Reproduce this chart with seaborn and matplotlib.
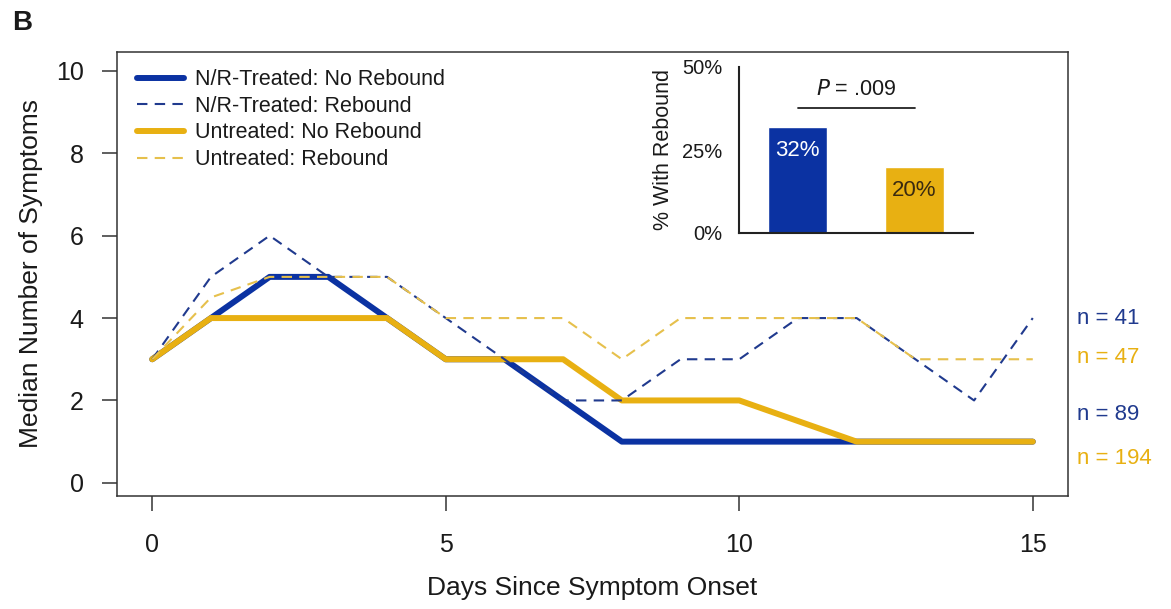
import numpy as np
import pandas as pd
import matplotlib
matplotlib.use("Agg")
import matplotlib.pyplot as plt
import seaborn as sns

# ---------------- data ----------------
days = [0, 1, 2, 3, 4, 5, 6, 7, 8, 9, 10, 11, 12, 13, 14, 15]
treated_no_rebound = [3, 4, 5, 5, 4, 3, 3, 2, 1, 1, 1, 1, 1, 1, 1, 1]
treated_rebound = [3, 5, 6, 5, 5, 4, 3, 2, 2, 3, 3, 4, 4, 3, 2, 4]
untreated_no_rebound = [3, 4, 4, 4, 4, 3, 3, 3, 2, 2, 2, 1.5, 1, 1, 1, 1]
untreated_rebound = [3, 4.5, 5, 5, 5, 4, 4, 4, 3, 4, 4, 4, 4, 3, 3, 3]
series_labels = ["N/R-Treated: No Rebound", "N/R-Treated: Rebound",
                 "Untreated: No Rebound", "Untreated: Rebound"]

n_labels = ["n = 41", "n = 47", "n = 89", "n = 194"]
n_label_y = [4.0, 3.05, 1.65, 0.6]

inset_groups = ["N/R-Treated", "Untreated"]
inset_pct = [32, 20]
inset_bar_labels = ["32%", "20%"]
p_text = ".009"

# ---------------- style ----------------
sns.set_style("ticks")
plt.rcParams['font.family'] = ['Liberation Sans', 'DejaVu Sans']

BLUE = "#0b32a2"
BLUE_D = "#203a8e"
YEL = "#e8b012"
YEL_D = "#e6c04c"
TXT = "#1a1a1a"

fig = plt.figure(figsize=(11.71, 6.09), dpi=100)
ax = fig.add_axes([117/1171, 1-496/609, 951/1171, 444/609])

def line(y, color, lw, dashed, label, z):
    df = pd.DataFrame({"day": days, "val": y})
    kw = dict(x="day", y="val", data=df, ax=ax, color=color, lw=lw,
              label=label, zorder=z, estimator=None)
    if dashed:
        sns.lineplot(**kw, dashes=False, linestyle=(0, (5, 3.5)))
    else:
        sns.lineplot(**kw, solid_capstyle="round", solid_joinstyle="round")

line(treated_no_rebound, BLUE, 4.3, False, series_labels[0], 2)
line(untreated_no_rebound, YEL, 4.3, False, series_labels[2], 3)
line(treated_rebound, BLUE_D, 1.5, True, series_labels[1], 4)
line(untreated_rebound, YEL_D, 1.5, True, series_labels[3], 5)

ax.set_xlim(-0.6, 15.6)
ax.set_ylim(-0.32, 10.46)
ax.set_xticks([0, 5, 10, 15])
ax.set_yticks([0, 2, 4, 6, 8, 10])
ax.tick_params(axis="both", labelsize=18, length=11, width=1.1,
               color="#333333", labelcolor=TXT)
ax.tick_params(axis="x", pad=16)
ax.tick_params(axis="y", pad=13)
for s in ax.spines.values():
    s.set_linewidth(1.1)
    s.set_color("#333333")
    s.set_visible(True)
ax.set_xlabel("Days Since Symptom Onset", fontsize=19, labelpad=13, color=TXT)
ax.set_ylabel("Median Number of Symptoms", fontsize=19, labelpad=9, color=TXT)

handles, labels = ax.get_legend_handles_labels()
order = [labels.index(l) for l in series_labels]
leg = ax.legend([handles[i] for i in order], [labels[i] for i in order],
                loc="upper left", bbox_to_anchor=(0.005, 0.995), frameon=False,
                fontsize=15.5, handlelength=2.2, handletextpad=0.5,
                labelspacing=0.26, borderaxespad=0.3)
for t in leg.get_texts():
    t.set_color(TXT)

n_colors = [BLUE_D, YEL, BLUE_D, YEL]
for lab, yy, c in zip(n_labels, n_label_y, n_colors):
    ax.text(15.76, yy, lab, color=c, fontsize=16, va="center", ha="left",
            clip_on=False)

fig.text(0.010, 0.983, "B", fontsize=20, fontweight="bold", va="top", ha="left",
         color=TXT)

# ---------------- inset ----------------
ins = fig.add_axes([739/1171, 1-233/609, 234/1171, 166/609])
bdf = pd.DataFrame({"grp": inset_groups, "pct": inset_pct})
sns.barplot(data=bdf, x="grp", y="pct", hue="grp", palette=[BLUE, YEL],
            width=0.5, ax=ins, legend=False, saturation=1)
ins.set_xlim(-0.5, 1.5)
ins.set_ylim(0, 50)
ins.set_yticks([0, 25, 50])
ins.set_yticklabels(["0%", "25%", "50%"])
ins.set_xticks([])
ins.set_xlabel("")
ins.set_ylabel("% With Rebound", fontsize=15.5, labelpad=6, color=TXT)
ins.tick_params(axis="y", length=0, pad=12, labelsize=14.5, labelcolor=TXT)
for side in ["top", "right"]:
    ins.spines[side].set_visible(False)
for side in ["left", "bottom"]:
    ins.spines[side].set_linewidth(1.5)
    ins.spines[side].set_color("#222222")
ins.patch.set_alpha(0)

lab_colors = ["white", "#3a2a10"]
lab_y = [25.0, 12.8]
for i, (lab, c, yy) in enumerate(zip(inset_bar_labels, lab_colors, lab_y)):
    ins.text(i, yy, lab, ha="center", va="center", fontsize=16, color=c)

ins.plot([0, 1], [37.5, 37.5], color="#222222", lw=1.3, clip_on=False)
ins.text(0.5, 43.2, r"$\it{P}$ = " + p_text, ha="center", va="center",
         fontsize=15.5, color=TXT)

fig.savefig("out.png", dpi=100)
